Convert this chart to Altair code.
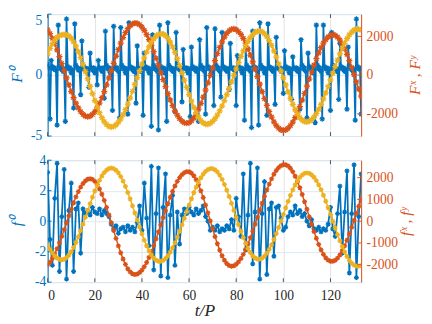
import altair as alt
import pandas as pd

X_TICKS = [0, 20, 40, 60, 80, 100, 120]
TOP_STEP = 0.5
BOT_STEP = 1.0

top_blue = [0.9, 0.6,
            -3.6, 1.2, 0.7, 0.5, 0.6, 0.4,
            -4.1, 4.1, 0.8, 0.5, 0.6, 0.3, 0.5,
            -3.8, 4.6, 0.7, 0.5, 0.6, 0.2, 0.4,
            -2.7, 4.2, 0.8, 0.6, 0.4, 0.5,
            -1.6, 2.8, 0.7, 0.5, 0.6, 0.3, 0.5,
            -1.0, 1.8, 0.6, 0.4, 0.6, 0.2, 0.5,
            -0.8, 1.2, 0.6, 0.5, 0.3, 0.6,
            -1.9, 3.6, 0.8, 0.5, 0.6, 0.2, 0.5,
            -2.9, 4.0, 0.7, 0.5, 0.6, 0.3,
            -3.5, 3.9, 0.8, 0.5, 0.6, 0.2, 0.5,
            -3.2, 4.3, 0.7, 0.5, 0.6, 0.3, 0.5,
            -2.3, 2.4, 0.6, 0.5, 0.3, 0.6,
            -3.3, 1.8, 0.7, 0.5, 0.6, 0.2, 0.5,
            -4.2, 3.3, 0.8, 0.5, 0.6, 0.3,
            -4.5, 4.1, 0.7, 0.5, 0.6, 0.2, 0.5,
            -3.8, 4.3, 0.8, 0.5, 0.6, 0.3, 0.5,
            -3.0, 3.5, 0.7, 0.5, 0.6, 0.3,
            -2.2, 2.1, 0.6, 0.5, 0.6, 0.2, 0.5,
            -3.4, 2.3, 0.7, 0.5, 0.6, 0.3, 0.5,
            -3.8, 2.9, 0.8, 0.5, 0.6, 0.3,
            -3.2, 3.9, 0.7, 0.5, 0.6, 0.2, 0.5,
            -2.5, 3.8, 0.8, 0.5, 0.6, 0.3,
            -1.8, 3.5, 0.7, 0.5, 0.6, 0.3, 0.5,
            -1.2, 2.6, 0.6, 0.5, 0.6, 0.3,
            -2.5, 1.6, 0.7, 0.5, 0.6, 0.2, 0.5,
            -3.7, 2.2, 0.8, 0.5, 0.6, 0.3,
            -4.3, 3.6, 0.7, 0.5, 0.6, 0.3,
            -4.1, 4.3, 0.8, 0.5, 0.6, 0.2, 0.5,
            -3.3, 4.2, 0.7, 0.5, 0.6, 0.3, 0.5,
            -2.4, 3.1, 0.8, 0.5, 0.6, 0.3, 0.5,
            -1.5, 2.0, 0.7, 0.5, 0.6, 0.2, 0.5,
            -2.0, 1.5, 0.6, 0.5, 0.6, 0.3, 0.5,
            -2.8, 2.9, 0.8, 0.5, 0.6, 0.3,
            -3.5, 1.8, 0.7, 0.5, 0.6, 0.2, 0.5,
            -3.9, 4.1, 0.8, 0.5, 0.6, 0.3,
            -3.6, 4.1, 0.7, 0.5, 0.6, 0.2, 0.5,
            -2.9, 3.5, 0.8, 0.5, 0.6, 0.3, 0.5,
            -2.0, 2.6, 0.7, 0.5, 0.6, 0.3, 0.5,
            -2.8, 2.3, 0.8, 0.5, 0.6, 0.3, 0.5,
            -3.7, 4.6, 0.7, 0.5, 0.6, -3.2]

top_fx = [2341, 2146, 1904, 1621, 1303, 959, 596, 225, -146, -509, -853, -1171, -1454, -1696, -1891, -2034, -2121, -2150, -2121, -2034, -1891, -1697, -1453, -1170, -850, -507, -141, 231, 606, 974, 1323, 1651, 1942, 2191, 2397, 2550, 2649, 2689, 2672, 2602, 2483, 2312, 2094, 1836, 1540, 1219, 869, 509, 136, -239, -602, -954, -1280, -1581, -1848, -2073, -2252, -2384, -2464, -2490, -2458, -2368, -2219, -2014, -1760, -1468, -1133, -775, -399, -11, 375, 748, 1104, 1429, 1717, 1961, 2153, 2290, 2370, 2390, 2348, 2251, 2099, 1897, 1647, 1358, 1033, 681, 306, -80, -469, -852, -1222, -1571, -1891, -2175, -2414, -2605, -2747, -2831, -2860, -2833, -2751, -2615, -2430, -2200, -1931, -1625, -1292, -941, -575, -205, 161, 512, 845, 1151, 1421, 1650, 1835, 1971, 2053, 2080, 2050, 1958, 1811, 1610, 1359, 1069, 744, 393, 21, -354, -726, -1091]

top_fy = [1100, 1380, 1620, 1810, 1950, 2040, 2080, 2090, 2083, 2021, 1899, 1720, 1491, 1212, 898, 552, 180, -200, -581, -956, -1318, -1650, -1945, -2203, -2406, -2556, -2649, -2680, -2654, -2574, -2446, -2268, -2046, -1788, -1497, -1176, -836, -484, -128, 226, 571, 894, 1193, 1458, 1687, 1873, 2012, 2101, 2140, 2119, 2039, 1901, 1705, 1461, 1171, 848, 493, 121, -256, -638, -1005, -1349, -1665, -1941, -2173, -2348, -2472, -2533, -2535, -2487, -2393, -2253, -2072, -1853, -1598, -1316, -1010, -684, -352, -12, 325, 651, 964, 1256, 1518, 1747, 1943, 2094, 2203, 2265, 2280, 2238, 2141, 1988, 1787, 1540, 1251, 931, 586, 224, -143, -509, -866, -1203, -1511, -1783, -2013, -2197, -2326, -2401, -2419, -2384, -2300, -2168, -1990, -1774, -1518, -1232, -920, -589, -246, 98, 443, 777, 1096, 1391, 1655, 1886, 2078, 2224, 2322, 2373, 2370, 2330]

bot_blue = [3.2, -1.2, -2.9, 1.5, 3.8, -3.3, 0.3, 3.4, -3.8, 0.7, 2.5, -3.3, 0.8, 1.2, -2.1,
            0.8, 0.5, 0.7, 0.4, 0.9, 0.6, 0.5, 0.8, 0.4, 0.7, 0.5, 0.3, -0.2, -0.5, -0.3,
            -0.8, -0.5, -0.4, -0.7, -0.3, -0.6, -0.4, -0.7, -0.1, 1.0, -0.6,
            2.5, 0.2, -1.6, 3.6, -3.2, 0.5, 3.5, -3.6, 0.9, 3.1, -3.7, 0.4, 1.7, -2.9, 0.6, -1.5,
            0.4, 0.8, 0.5, 0.9, 0.6, 0.4, 0.8, 0.5, 0.7, 1.0, 0.3, 0.0, -0.6, -0.4, -0.6,
            -0.3, -0.7, -0.5, -0.6, -0.3, -0.5, 0.1, -0.6,
            1.5, 0.3, -1.0, 3.1, -1.9, 0.4, 3.8, -2.8, 0.6, 3.5, -3.8, 0.5, 2.6, -3.5, 0.8, 1.2, -2.3,
            0.9, 1.0, 0.2, -0.6, -0.4, 0.3, 0.6, 0.4, 1.0, 0.5, 0.7, 0.3, 0.5, 0.0, -0.3, 0.1,
            -0.5, -0.6, -0.4, -0.7, -0.5, -0.6, -0.2, 0.9,
            -0.5, -1.0, 0.5, 2.3, -2.1, 0.6, 3.3, -3.4, 0.5, 3.7, -3.7, 0.3, 3.1]

bot_fx = [-2001, -1879, -1713, -1507, -1266, -994, -701, -391, -75, 241, 551, 844, 1116, 1357, 1563, 1729, 1851, 1926, 1950, 1919, 1831, 1686, 1486, 1239, 953, 634, 289, -70, -430, -789, -1134, -1453, -1739, -1986, -2186, -2331, -2419, -2450, -2427, -2358, -2247, -2091, -1897, -1667, -1407, -1121, -816, -496, -168, 163, 487, 802, 1098, 1372, 1616, 1828, 2003, 2138, 2228, 2275, 2272, 2210, 2087, 1906, 1675, 1399, 1086, 740, 381, 14, -354, -706, -1035, -1333, -1587, -1794, -1946, -2040, -2070, -2047, -1979, -1869, -1715, -1524, -1297, -1040, -758, -457, -141, 183, 510, 830, 1141, 1433, 1703, 1944, 2154, 2327, 2460, 2549, 2595, 2593, 2538, 2431, 2273, 2066, 1819, 1536, 1227, 893, 549, 201, -143, -477, -786, -1069, -1316, -1523, -1681, -1788, -1843, -1844, -1795, -1697, -1552, -1365, -1137, -878, -590, -286, 33, 359, 684, 999]

bot_fy = [-1100, -1292, -1460, -1594, -1692, -1750, -1770, -1747, -1677, -1562, -1404, -1208, -978, -718, -433, -134, 177, 493, 804, 1103, 1388, 1648, 1878, 2074, 2232, 2347, 2417, 2440, 2414, 2339, 2217, 2050, 1842, 1595, 1318, 1020, 705, 377, 48, -276, -580, -870, -1131, -1361, -1550, -1693, -1794, -1844, -1844, -1801, -1715, -1590, -1425, -1224, -994, -738, -462, -170, 131, 439, 740, 1032, 1308, 1564, 1794, 1995, 2160, 2285, 2371, 2414, 2414, 2362, 2262, 2113, 1920, 1688, 1423, 1133, 821, 498, 172, -151, -463, -753, -1018, -1250, -1443, -1592, -1692, -1744, -1744, -1698, -1607, -1472, -1297, -1085, -843, -575, -291, 7, 310, 614, 908, 1182, 1438, 1664, 1859, 2014, 2127, 2196, 2220, 2196, 2130, 2018, 1864, 1671, 1448, 1193, 914, 618, 311, -4, -313, -616, -905, -1173, -1412, -1622, -1796, -1928, -2018, -2064, -2064, -2040]

BLUE = "#0072BD"
ORANGE = "#D95319"
YELLOW = "#EDB120"
BOX = "#505050"
STAR = "M-1,0L1,0M0,-1L0,1M-0.7,-0.7L0.7,0.7M-0.7,0.7L0.7,-0.7"
FONT = "Liberation Serif"
W, H = 324, 126
XDOM = [0, 133]
LBL = "'' + datum.value"


def df_of(vals, step):
    return pd.DataFrame({"t": [i * step for i in range(len(vals))], "v": vals})


def xenc(axis):
    return alt.X("t:Q", scale=alt.Scale(domain=XDOM, nice=False, zero=False), axis=axis)


def line(vals, step, color, yscale, yaxis, xaxis, msize, lw):
    return alt.Chart(df_of(vals, step)).mark_line(
        color=color, strokeWidth=lw, clip=True,
        point=alt.OverlayMarkDef(shape=STAR, filled=False, stroke=color,
                                 strokeWidth=1.3, size=msize, clip=True),
    ).encode(x=xenc(xaxis), y=alt.Y("v:Q", scale=yscale, axis=yaxis))


def panel(blue, bstep, fx, fy, fstep, ldom, lticks, rdom, rticks, ltitle, rtitle, bottom,
          bsize, fsize, lpad, ltp, rtp, top_flush):
    lscale = alt.Scale(domain=ldom, nice=False, zero=False)
    rscale = alt.Scale(domain=rdom, nice=False, zero=False)
    if bottom:
        xaxis = alt.Axis(
            orient="bottom", values=X_TICKS, grid=True, gridColor="#e2e2e2",
            domain=False, ticks=False,
            labelFont=FONT, labelFontSize=14, labelColor="#262626", labelPadding=7,
            title="t/P", titleFont=FONT, titleFontStyle="italic", titleFontWeight="normal",
            titleFontSize=18, titleColor="#262626", titlePadding=0)
    else:
        xaxis = alt.Axis(orient="bottom", values=X_TICKS, grid=True, gridColor="#e2e2e2",
                         domain=False, ticks=False, labels=False, title=None)
    lbase = "middle"
    if top_flush is not None:
        lbase = {"condition": {"test": "datum.value == %s" % top_flush, "value": "top"},
                 "value": "middle"}
    laxis = alt.Axis(
        values=lticks, orient="left", labelExpr=LBL, grid=True,
        gridColor="#dbe7f1", domainColor=BLUE, domainWidth=1, ticks=False,
        labelColor=BLUE, labelFont=FONT, labelFontSize=14, labelPadding=lpad,
        labelBaseline=lbase,
        title=ltitle, titleColor=BLUE, titleFont=FONT, titleFontStyle="italic",
        titleFontWeight="normal", titleFontSize=16, titlePadding=ltp)
    raxis = alt.Axis(
        values=rticks, orient="right", labelExpr=LBL, grid=False,
        domainColor=ORANGE, domainWidth=1, ticks=False, labelColor=ORANGE,
        labelFont=FONT, labelFontSize=14, labelPadding=5, title=rtitle,
        titleColor=ORANGE, titleFont=FONT, titleFontStyle="italic",
        titleFontWeight="normal", titleFontSize=16, titlePadding=rtp, titleAngle=270,
        titleBaseline="top")

    xt = pd.DataFrame({"t": X_TICKS})
    xb = alt.Chart(xt).mark_rule(color=BOX, strokeWidth=1).encode(
        x=xenc(xaxis), y=alt.value(H), y2=alt.value(H - 4))
    xtop = alt.Chart(xt).mark_rule(color=BOX, strokeWidth=1).encode(
        x=xenc(xaxis), y=alt.value(0), y2=alt.value(4))
    lt = alt.Chart(pd.DataFrame({"v": lticks})).mark_rule(color=BLUE, strokeWidth=1).encode(
        y=alt.Y("v:Q", scale=lscale, axis=None), x=alt.value(0), x2=alt.value(4))
    rt = alt.Chart(pd.DataFrame({"v": rticks})).mark_rule(color=ORANGE, strokeWidth=1).encode(
        y=alt.Y("v:Q", scale=rscale, axis=None), x=alt.value(W - 4), x2=alt.value(W))

    return alt.layer(
        line(blue, bstep, BLUE, lscale, laxis, xaxis, bsize, 1.8),
        xb, xtop, lt,
        line(fx, fstep, ORANGE, rscale, raxis, xaxis, fsize, 1.5),
        line(fy, fstep, YELLOW, rscale, None, xaxis, fsize, 1.5),
        rt,
    ).resolve_scale(y="independent").properties(width=W, height=H)


top = panel(top_blue, TOP_STEP, top_fx, top_fy, BOT_STEP, [-5, 5], [-5, 0, 5],
            [-3150, 3150], [-2000, 0, 2000], "F\u2070", "F\u02e3 , F\u02b8", False,
            30, 40, 6, 6, 10, 5)
bot = panel(bot_blue, BOT_STEP, bot_fx, bot_fy, BOT_STEP, [-4, 4], [-4, -2, 0, 2, 4],
            [-2800, 2800], [-2000, -1000, 0, 1000, 2000], "f\u2070", "f\u02e3 , f\u02b8",
            True, 26, 26, 2, 10, 0, None)

chart = alt.vconcat(top, bot, spacing=9).properties(
    padding={"left": 0, "top": 0, "right": 0, "bottom": 0}
).configure_view(stroke=BOX, strokeWidth=1).configure(background="white")

chart.save("out.html", embed_options={"renderer": "svg", "actions": False})
